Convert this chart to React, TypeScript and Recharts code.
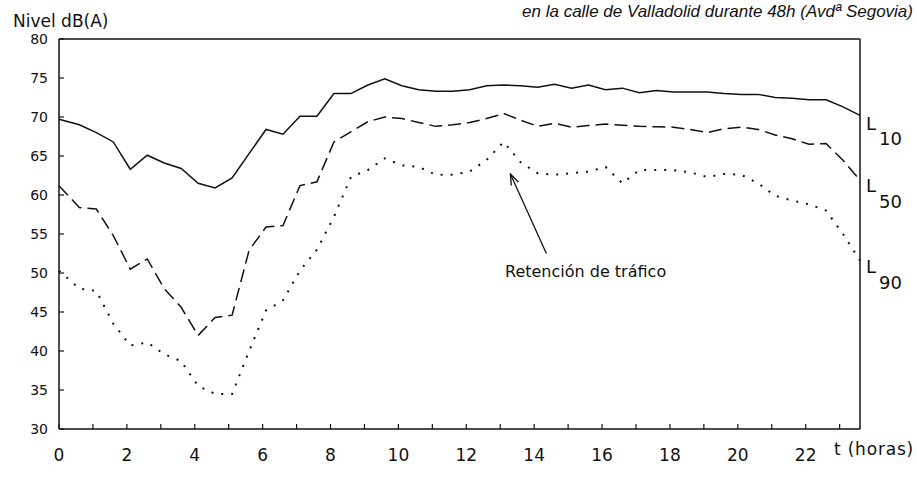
import { LineChart, Line, XAxis, YAxis, ReferenceLine } from "recharts"

// horas del día (muestras cada media hora)
const hours = [
  0, 0.6, 1.1, 1.6, 2.1, 2.6, 3.1, 3.6, 4.1, 4.6, 5.1, 5.6, 6.1, 6.6, 7.1, 7.6,
  8.1, 8.6, 9.1, 9.6, 10.1, 10.6, 11.1, 11.6, 12.1, 12.6, 13.1, 13.6, 14.1, 14.6, 15.1, 15.6,
  16.1, 16.6, 17.1, 17.6, 18.1, 18.6, 19.1, 19.6, 20.1, 20.6, 21.1, 21.6, 22.1, 22.6, 23.1, 23.6,
]

const l10 = [
  69.7, 69.0, 68.0, 66.8, 63.3, 65.1, 64.1, 63.4, 61.5, 60.9, 62.2, 65.3, 68.4, 67.8, 70.1, 70.1,
  73.0, 73.0, 74.1, 74.9, 74.0, 73.5, 73.3, 73.3, 73.5, 74.0, 74.1, 74.0, 73.8, 74.2, 73.7, 74.1,
  73.5, 73.7, 73.1, 73.4, 73.2, 73.2, 73.2, 73.0, 72.9, 72.9, 72.5, 72.4, 72.2, 72.2, 71.3, 70.2,
]

const l50 = [
  61.2, 58.4, 58.2, 54.8, 50.5, 51.8, 48.0, 45.6, 42.0, 44.3, 44.6, 52.9, 55.9, 56.1, 61.2, 61.7,
  66.8, 68.1, 69.4, 70.0, 69.8, 69.3, 68.8, 69.0, 69.3, 69.8, 70.45, 69.6, 68.8, 69.2, 68.7, 68.9,
  69.1, 68.95, 68.8, 68.75, 68.7, 68.4, 68.0, 68.5, 68.7, 68.4, 67.7, 67.2, 66.5, 66.6, 64.45, 61.9,
]

const l90 = [
  50.3, 48.0, 47.7, 43.5, 40.7, 41.1, 39.6, 38.7, 35.5, 34.5, 34.5, 40.0, 45.2, 46.5, 50.3, 53.0,
  57.2, 62.3, 63.2, 64.7, 63.8, 63.6, 62.6, 62.6, 63.0, 64.5, 66.8, 64.2, 62.8, 62.6, 62.8, 63.0,
  63.6, 61.5, 63.2, 63.2, 63.2, 62.9, 62.3, 62.7, 62.6, 61.5, 59.9, 59.3, 58.8, 58.0, 55.0, 51.6,
]

const hourTicks = [0, 1, 2, 3, 4, 5, 6, 7, 8, 9, 10, 11, 12, 13, 14, 15, 16, 17, 18, 19, 20, 21, 22, 23]
const levelTicks = [30, 35, 40, 45, 50, 55, 60, 65, 70, 75, 80]

const rows = hours.map((t, i) => ({ t, l10: l10[i], l50: l50[i], l90: l90[i] }))

const INK = "#111"
const FONT = "'DejaVu Sans', sans-serif"

function HourTick(props: any) {
  const { x, y, payload } = props
  const h = payload.value
  return (
    <g>
      <line x1={x} y1={y} x2={x} y2={y - 5} stroke={INK} strokeWidth={1.2} />
      {h % 2 === 0 && (
        <text x={x} y={y + 32} textAnchor="middle" fontSize={17} fontFamily={FONT} fill={INK}>
          {h}
        </text>
      )}
    </g>
  )
}

function LevelTick(props: any) {
  const { x, y, payload } = props
  return (
    <g>
      <line x1={x} y1={y} x2={x + 5} y2={y} stroke={INK} strokeWidth={1.2} />
      <text x={x - 11} y={y + 5} textAnchor="end" fontSize={14} fontFamily={FONT} fill={INK}>
        {payload.value}
      </text>
    </g>
  )
}

function Arrow(props: any) {
  const { x1, y1, x2, y2 } = props
  return <line x1={x1} y1={y1} x2={x2} y2={y2} stroke={INK} strokeWidth={1.3} markerEnd="url(#openArrow)" />
}

export default function App() {
  return (
    <div style={{ position: "absolute", left: 0, top: 0, width: 917, height: 477, background: "#fff" }}>
      <LineChart width={917} height={477} data={rows} margin={{ top: 39, right: 57, bottom: 0, left: 0 }}>
        <XAxis
          xAxisId="x"
          dataKey="t"
          type="number"
          domain={[0, 23.6]}
          ticks={hourTicks}
          tick={<HourTick />}
          tickSize={0}
          tickMargin={0}
          tickLine={false}
          height={48}
          axisLine={{ stroke: INK, strokeWidth: 1.5 }}
          interval={0}
        />
        <YAxis
          yAxisId="y"
          type="number"
          domain={[30, 80]}
          ticks={levelTicks}
          tick={<LevelTick />}
          tickSize={0}
          tickMargin={0}
          tickLine={false}
          width={59}
          axisLine={{ stroke: INK, strokeWidth: 1.5 }}
          interval={0}
        />
        {/* marco superior y derecho */}
        <ReferenceLine xAxisId="x" yAxisId="y" y={80} stroke={INK} strokeWidth={1.5} ifOverflow="visible" />
        <ReferenceLine xAxisId="x" yAxisId="y" x={23.6} stroke={INK} strokeWidth={1.5} ifOverflow="visible" />
        <Line xAxisId="x" yAxisId="y" type="linear" dataKey="l10" stroke={INK} strokeWidth={1.5} dot={false} activeDot={false} isAnimationActive={false} />
        <Line xAxisId="x" yAxisId="y" type="linear" dataKey="l50" stroke={INK} strokeWidth={1.5} strokeDasharray="13 6" dot={false} activeDot={false} isAnimationActive={false} />
        <Line xAxisId="x" yAxisId="y" type="linear" dataKey="l90" stroke={INK} strokeWidth={2} strokeDasharray="2 8" dot={false} activeDot={false} isAnimationActive={false} />
        <ReferenceLine
          xAxisId="x"
          yAxisId="y"
          segment={[{ x: 14.36, y: 52.5 }, { x: 13.3, y: 62.7 }]}
          shape={<Arrow />}
          ifOverflow="visible"
        />
      </LineChart>
      <svg width={917} height={477} style={{ position: "absolute", left: 0, top: 0, pointerEvents: "none" }}>
        <defs>
          <marker id="openArrow" viewBox="0 0 12 10" refX="11" refY="5" markerWidth="12" markerHeight="10" markerUnits="userSpaceOnUse" orient="auto">
            <path d="M0,1 L11,5 L0,9" fill="none" stroke={INK} strokeWidth={1.3} />
          </marker>
        </defs>
        <text x={913} y={17} textAnchor="end" fontSize={17} fontStyle="italic" fontFamily="'Liberation Sans', sans-serif" fill={INK}>
          en la calle de Valladolid durante 48h (Avdª Segovia)
        </text>
        <text x={13} y={27} fontSize={17} fontFamily={FONT} fill={INK}>Nivel dB(A)</text>
        <text x={505} y={277} fontSize={16} fontFamily={FONT} fill={INK}>Retención de tráfico</text>
        <text x={834} y={455} fontSize={17} letterSpacing={0.8} fontFamily={FONT} fill={INK}>t (horas)</text>
        <g fontSize={18} fontFamily={FONT} fill={INK}>
          <text x={866} y={130}>L</text>
          <text x={879} y={145}>10</text>
          <text x={866} y={192}>L</text>
          <text x={879} y={208}>50</text>
          <text x={866} y={273}>L</text>
          <text x={879} y={289}>90</text>
        </g>
      </svg>
    </div>
  )
}
